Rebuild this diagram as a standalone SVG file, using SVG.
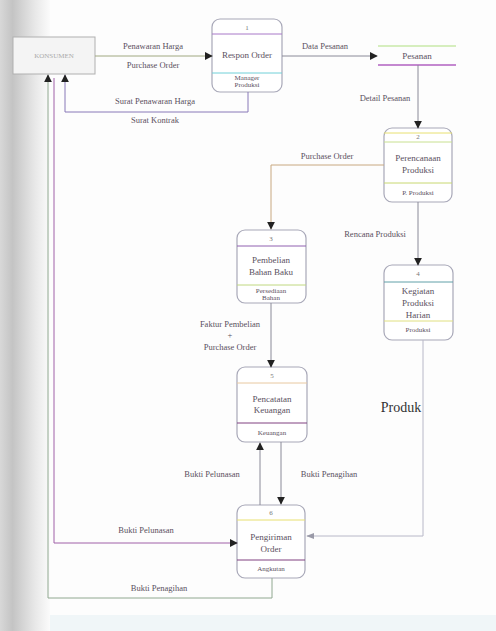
<svg xmlns="http://www.w3.org/2000/svg" width="496" height="631" viewBox="0 0 496 631">
<defs>
<linearGradient id="lg" x1="0" y1="0" x2="1" y2="0">
<stop offset="0" stop-color="#d8d8d8"/>
<stop offset="0.25" stop-color="#c4c4c4"/>
<stop offset="0.7" stop-color="#e8e8e8"/>
<stop offset="1" stop-color="#fbfbfb"/>
</linearGradient>
<linearGradient id="topg" x1="0" y1="0" x2="1" y2="0">
<stop offset="0" stop-color="#9a9a9a"/>
<stop offset="0.5" stop-color="#c89ac8"/>
<stop offset="1" stop-color="#a8c8d8"/>
</linearGradient>
<marker id="ah" viewBox="0 0 10 10" refX="9" refY="5" markerWidth="8" markerHeight="8" markerUnits="userSpaceOnUse" orient="auto">
<path d="M0,0 L10,5 L0,10 z" fill="#222"/>
</marker>
<marker id="ahg" viewBox="0 0 10 10" refX="9" refY="5" markerWidth="8" markerHeight="8" markerUnits="userSpaceOnUse" orient="auto">
<path d="M0,1 L10,5 L0,9 z" fill="#9a9aa8"/>
</marker>
</defs>
<style>
.bg{fill:#fdfdfd}
.proc{fill:#ffffff;stroke:#a8a8b8;stroke-width:1.2}
.t{font-family:"Liberation Serif",serif;font-size:9px;fill:#5a5060;text-anchor:middle}
.s{font-family:"Liberation Serif",serif;font-size:7px;fill:#5a5060;text-anchor:middle}
.n{font-family:"Liberation Serif",serif;font-size:7px;fill:#777;text-anchor:middle}
.lbl{font-family:"Liberation Serif",serif;font-size:8.5px;fill:#5a5060;text-anchor:middle}
.c{fill:none;stroke:#8a8a98;stroke-width:1}
</style>
<rect class="bg" x="0" y="0" width="496" height="631"/>
<rect x="0" y="0" width="50" height="631" fill="url(#lg)"/>
<rect x="50" y="615" width="446" height="16" fill="#f0f6f8"/>
<line x1="10" y1="10" x2="496" y2="10" stroke="url(#topg)" stroke-width="1.5"/>

<g id="konsumen">
<rect x="13" y="37" width="82" height="37" fill="#f4f4f4" stroke="#b0b0b0" stroke-width="1"/>
<text class="s" x="54" y="58" fill="#aaa" style="fill:#aaaaaa;font-size:7px">KONSUMEN</text>
</g>

<g id="p1">
<rect class="proc" x="212" y="19" width="70" height="73" rx="8"/>
<line x1="212" y1="34" x2="282" y2="34" stroke="#a878c8" stroke-width="1"/>
<line x1="212" y1="73" x2="282" y2="73" stroke="#70d0d8" stroke-width="1"/>
<text class="n" x="247" y="30">1</text>
<text class="t" x="247" y="58">Respon Order</text>
<text class="s" x="247" y="80">Manager</text>
<text class="s" x="247" y="87">Produksi</text>
</g>

<g id="pesanan">
<line x1="378" y1="46" x2="456" y2="46" stroke="#c8e8a8" stroke-width="1.5"/>
<line x1="378" y1="65" x2="456" y2="65" stroke="#b060c0" stroke-width="1.5"/>
<text class="t" x="417" y="59">Pesanan</text>
</g>

<g id="p2">
<rect class="proc" x="384" y="128" width="68" height="74" rx="8"/>
<line x1="384" y1="133" x2="452" y2="133" stroke="#e8e070" stroke-width="1"/>
<line x1="384" y1="142" x2="452" y2="142" stroke="#c8e090" stroke-width="1"/>
<line x1="384" y1="183" x2="452" y2="183" stroke="#c8d870" stroke-width="1"/>
<text class="n" x="418" y="139">2</text>
<text class="t" x="418" y="161">Perencanaan</text>
<text class="t" x="418" y="173">Produksi</text>
<text class="s" x="418" y="195">P. Produksi</text>
</g>

<g id="p3">
<rect class="proc" x="237" y="230" width="69" height="73" rx="8"/>
<line x1="237" y1="246" x2="306" y2="246" stroke="#9060b0" stroke-width="1"/>
<line x1="237" y1="285" x2="306" y2="285" stroke="#c0d880" stroke-width="1"/>
<text class="n" x="271" y="241">3</text>
<text class="t" x="271" y="263">Pembelian</text>
<text class="t" x="271" y="275">Bahan Baku</text>
<text class="s" x="271" y="293">Persediaan</text>
<text class="s" x="271" y="300">Bahan</text>
</g>

<g id="p4">
<rect class="proc" x="384" y="265" width="69" height="75" rx="8"/>
<line x1="384" y1="282" x2="453" y2="282" stroke="#60a0a8" stroke-width="1"/>
<line x1="384" y1="321" x2="453" y2="321" stroke="#e0e080" stroke-width="1"/>
<text class="n" x="418" y="276">4</text>
<text class="t" x="418" y="294">Kegiatan</text>
<text class="t" x="418" y="306">Produksi</text>
<text class="t" x="418" y="318">Harian</text>
<text class="s" x="418" y="332">Produksi</text>
</g>

<g id="p5">
<rect class="proc" x="237" y="367" width="70" height="75" rx="8"/>
<line x1="237" y1="383" x2="307" y2="383" stroke="#e8c8a0" stroke-width="1"/>
<line x1="237" y1="423" x2="307" y2="423" stroke="#804080" stroke-width="1"/>
<text class="n" x="272" y="378">5</text>
<text class="t" x="272" y="402">Pencatatan</text>
<text class="t" x="272" y="413">Keuangan</text>
<text class="s" x="272" y="435">Keuangan</text>
</g>

<g id="p6">
<rect class="proc" x="237" y="505" width="68" height="73" rx="8"/>
<line x1="237" y1="520" x2="305" y2="520" stroke="#e8e070" stroke-width="1"/>
<line x1="237" y1="560" x2="305" y2="560" stroke="#804080" stroke-width="1"/>
<text class="n" x="271" y="515">6</text>
<text class="t" x="271" y="540">Pengiriman</text>
<text class="t" x="271" y="552">Order</text>
<text class="s" x="271" y="571">Angkutan</text>
</g>

<g id="connectors">
<path class="c" d="M95,56 H212" stroke="#a8b878" style="stroke:#a0a880" marker-end="url(#ah)"/>
<path class="c" d="M282,56 H377" marker-end="url(#ah)"/>
<path class="c" d="M418,65 V128" marker-end="url(#ah)"/>
<path class="c" d="M384,165 H271 V229" style="stroke:#c8a880" marker-end="url(#ah)"/>
<path class="c" d="M418,202 V265" marker-end="url(#ah)"/>
<path class="c" d="M271,303 V367" marker-end="url(#ah)"/>
<path class="c" d="M423,340 V536 H307" style="stroke:#b8b8c8" marker-end="url(#ahg)"/>
<path class="c" d="M260,505 V443" marker-end="url(#ah)"/>
<path class="c" d="M281,442 V504" marker-end="url(#ah)"/>
<path class="c" d="M248,92 V112 H65 V75" style="stroke:#8878b8" marker-end="url(#ah)"/>
<path class="c" d="M54,78 V543 H237" style="stroke:#a060a8" marker-end="url(#ah)"/>
<path class="c" d="M272,578 V598 H48 V75" style="stroke:#90a890" marker-end="url(#ah)"/>
<text class="lbl" x="153" y="49">Penawaran Harga</text>
<text class="lbl" x="153" y="68">Purchase Order</text>
<text class="lbl" x="325" y="49">Data Pesanan</text>
<text class="lbl" x="155" y="104">Surat Penawaran Harga</text>
<text class="lbl" x="155" y="123">Surat Kontrak</text>
<text class="lbl" x="385" y="101">Detail Pesanan</text>
<text class="lbl" x="327" y="159">Purchase Order</text>
<text class="lbl" x="375" y="237">Rencana Produksi</text>
<text class="lbl" x="230" y="327">Faktur Pembelian</text>
<text class="lbl" x="230" y="338">+</text>
<text class="lbl" x="230" y="350">Purchase Order</text>
<text x="401" y="412" style="font-family:'Liberation Serif',serif;font-size:14px;fill:#333;text-anchor:middle">Produk</text>
<text class="lbl" x="212" y="477">Bukti Pelunasan</text>
<text class="lbl" x="329" y="477">Bukti Penagihan</text>
<text class="lbl" x="146" y="533">Bukti Pelunasan</text>
<text class="lbl" x="159" y="591">Bukti Penagihan</text>
</g>
</svg>
